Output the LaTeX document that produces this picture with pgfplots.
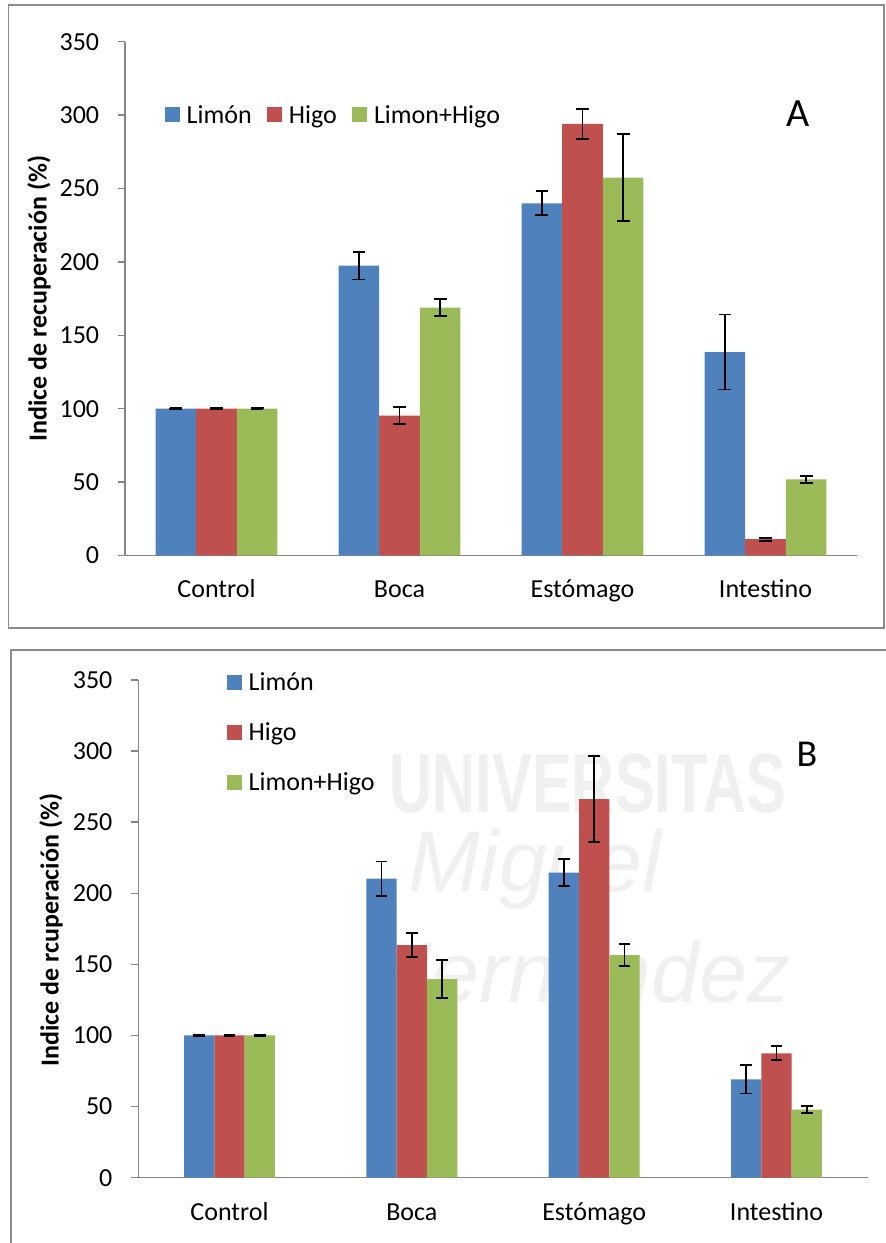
\documentclass[border=0pt]{standalone}
\usepackage{fontspec}
\setmainfont{Carlito}
\newfontfamily\wmsans{Liberation Sans}
\usepackage{pgfplots}
\usepackage{pgfplotstable}
\pgfplotsset{compat=1.18}
\definecolor{cBlue}{HTML}{4F81BD}
\definecolor{cRed}{HTML}{C0504D}
\definecolor{cGreen}{HTML}{9BBB59}
\definecolor{axgray}{HTML}{868686}
\definecolor{framegray}{HTML}{8C8C8C}

\pgfplotstableread{
x limon elimon higo ehigo mix emix
0 100 0.3 100 0.3 100 0.3
1 197.5 9.5 95.2 5.8 168.9 6.0
2 239.9 8.2 294.0 10.2 257.4 29.6
3 138.6 25.5 11.1 1.0 51.8 2.6
}\dataA
\pgfplotstableread{
x limon elimon higo ehigo mix emix
0 100 0.3 100 0.3 100 0.3
1 210.3 12.1 163.6 8.6 139.7 13.4
2 214.5 9.6 266.3 30.0 156.6 7.9
3 69.2 10.0 87.5 5.0 47.8 2.4
}\dataB

\pgfplotsset{
  excelbar/.style={
    scale only axis, anchor=south west,
    xmin=-0.5, xmax=3.5, ymin=0, ymax=350,
    ybar=0pt,
    axis x line*=bottom, axis y line*=left,
    axis line style={axgray, line width=0.75pt},
    ytick={0,50,...,350},
    xtick={0,1,2,3},
    xticklabels={Control,Boca,Estómago,Intestino},
    tick align=outside,
    major tick length=3.75pt,
    ytick style={axgray, line width=0.75pt},
    xtick style={draw=none},
    tick label style={font=\fontsize{13}{15.6}\selectfont, inner sep=0pt},
    /pgf/number format/assume math mode=true,
    yticklabel style={anchor=east, xshift=-9pt},
    xticklabel style={anchor=base, yshift=-17.5pt},
    ylabel style={font=\fontsize{13}{15.6}\selectfont\bfseries, anchor=center, inner sep=0pt},
    legend image code/.code={\fill[##1] (0pt,0.5pt) rectangle (7.35pt,7.85pt);},
    legend style={draw=none, fill=none, inner sep=0pt, outer sep=0pt, anchor=west,
      font=\fontsize{13}{15.6}\selectfont,
      cells={anchor=base west},
      nodes={inner sep=0pt, text height=8.4pt, text depth=0pt},
      /tikz/every odd column/.append style={column sep=3.5pt},
    },
  },
  eb/.style={error bars/.cd, y dir=both, y explicit, error mark=-,
    error bar style={line width=0.9pt, black},
    error mark options={rotate=90, mark size=#1, line width=0.9pt, black}},
}

\begin{document}
\begin{tikzpicture}
\path[use as bounding box] (0,0) rectangle (442.5pt,621.5pt);
% frames
\draw[framegray, line width=0.75pt] (4.2pt,307.5pt) rectangle (441.9pt,619pt);
\draw[framegray, line width=0.75pt] (5.5pt,-5pt) |- (450pt,296.5pt);
% watermark
\node[text=black!6, font=\wmsans\bfseries\fontsize{42}{42}\selectfont, xscale=0.71] at (294pt,229.5pt) {UNIVERSITAS};
\node[text=black!6, font=\wmsans\itshape\fontsize{43}{43}\selectfont] at (267.5pt,187pt) {Miguel};
\node[text=black!6, font=\wmsans\itshape\fontsize{43}{43}\selectfont] at (290pt,136pt) {Hernández};

% Panel A
\begin{axis}[excelbar,
  at={(62.5pt,343.75pt)}, width=366pt, height=256.9pt,
  bar width=20.3pt,
  ylabel={Indice de recuperación (\%)},
  ylabel style={at={(axis description cs:-0.1175,0.5)}},
  legend columns=3,
  legend style={at={(0.05464,0.8579)},
    /tikz/every even column/.append style={column sep=7.75pt}},
]
\addplot[fill=cBlue, draw=none, eb=3.2pt] table[x=x, y=limon, y error=elimon] {\dataA};
\addplot[fill=cRed, draw=none, eb=3.2pt] table[x=x, y=higo, y error=ehigo] {\dataA};
\addplot[fill=cGreen, draw=none, eb=3.2pt] table[x=x, y=mix, y error=emix] {\dataA};
\legend{Limón, Higo, Limon+Higo}
\node[font=\fontsize{20}{20}\selectfont, inner sep=0pt] at (axis description cs:0.9194,0.8593) {A};
\end{axis}

% Panel B
\begin{axis}[excelbar,
  at={(69.15pt,32.65pt)}, width=364.7pt, height=248.85pt,
  bar width=15.15pt,
  ylabel={Indice de rcuperación (\%)},
  ylabel style={at={(axis description cs:-0.1197,0.4976)}},
  legend columns=1,
  legend style={at={(0.1216,0.8945)}, row sep=16.6pt},
]
\addplot[fill=cBlue, draw=none, eb=2.9pt] table[x=x, y=limon, y error=elimon] {\dataB};
\addplot[fill=cRed, draw=none, eb=2.9pt] table[x=x, y=higo, y error=ehigo] {\dataB};
\addplot[fill=cGreen, draw=none, eb=2.9pt] table[x=x, y=mix, y error=emix] {\dataB};
\legend{Limón, Higo, Limon+Higo}
\node[font=\fontsize{19}{19}\selectfont, inner sep=0pt] at (axis description cs:0.9168,0.8513) {B};
\end{axis}
\end{tikzpicture}
\end{document}
